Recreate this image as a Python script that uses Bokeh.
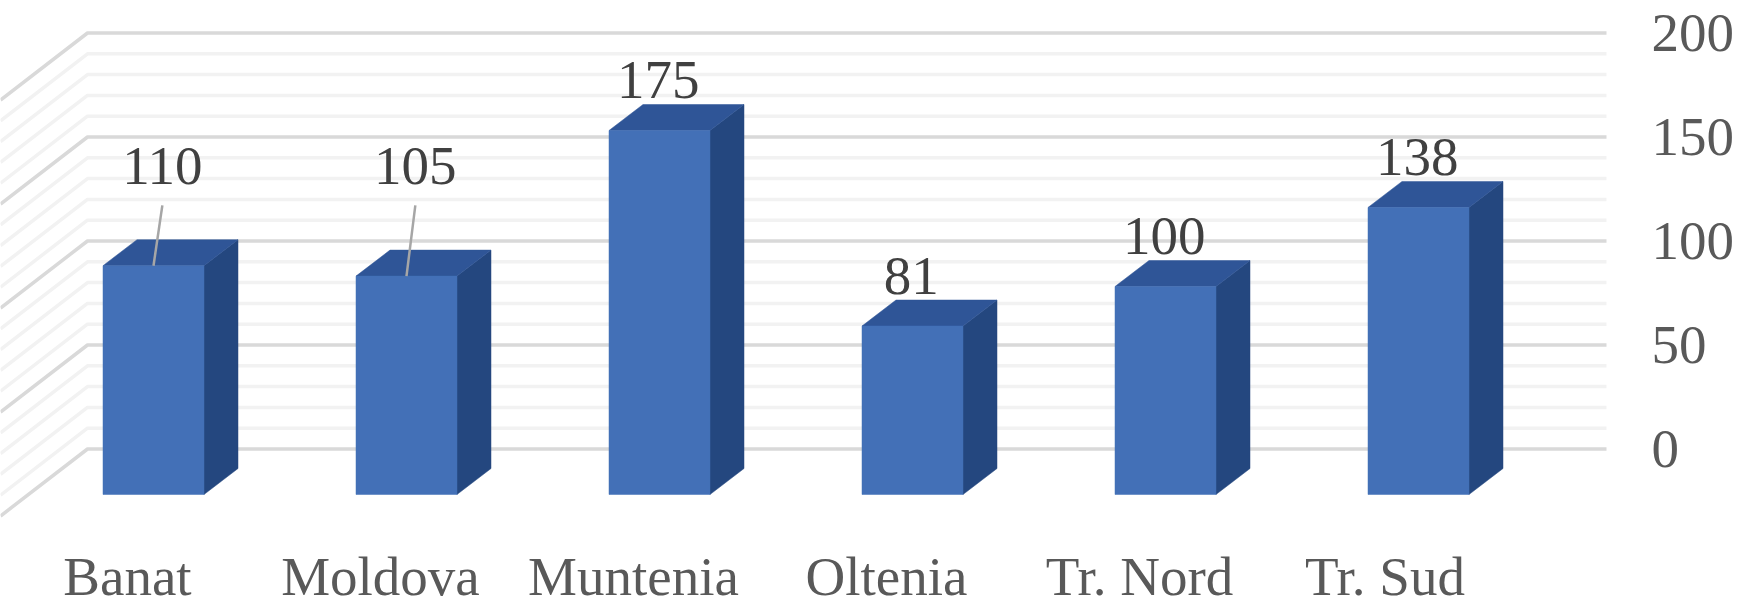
from bokeh.plotting import figure
from bokeh.models import Range1d, FixedTicker
from bokeh.core.properties import value
from bokeh.embed import file_html
from bokeh.resources import INLINE

categories = ["Banat", "Moldova", "Muntenia", "Oltenia", "Tr. Nord", "Tr. Sud"]
values = [110, 105, 175, 81, 100, 138]
y_ticks = [0, 50, 100, 150, 200]
minor_ticks = [10, 20, 30, 40, 60, 70, 80, 90, 110, 120, 130, 140, 160, 170, 180, 190]

FONT = "Liberation Serif"
PX_X, PX_Y = 253.0, 2.08          # pixels per category / per value unit
FRAME_L, FRAME_R, FRAME_T, FRAME_B = 0, 1638, 0, 533
X0, Y0 = 153.0, 494.0             # page position of category 0 / value 0
BAR_W = 101 / PX_X
DX, DY = 34 / PX_X, 26 / PX_Y     # depth of a column
BACK = 45.5 / PX_Y                # the back wall sits higher than the column fronts
GL, GR = (87 - X0) / PX_X, (1606 - X0) / PX_X
WX, WY = -87 / PX_X, -67 / PX_Y   # side wall run

x0 = (FRAME_L - X0) / PX_X
x1 = (FRAME_R - X0) / PX_X
y0 = (Y0 - FRAME_B) / PX_Y
y1 = (Y0 - FRAME_T) / PX_Y

p = figure(width=1760, height=607, frame_width=FRAME_R - FRAME_L, frame_height=FRAME_B - FRAME_T,
           x_range=Range1d(x0, x1), y_range=Range1d(y0, y1), y_axis_location="right",
           output_backend="svg", toolbar_location=None, min_border=0,
           background_fill_color="white", border_fill_color="white", outline_line_color=None)
p.grid.visible = False
LBL_SHIFT = 0.1028
p.extra_x_ranges = {"labels": Range1d(x0 + LBL_SHIFT, x1 + LBL_SHIFT)}
p.extra_y_ranges = {"back": Range1d(y0 - BACK, y1 - BACK)}

def grid(vals, color):
    p.multi_line([[GL + WX, GL, GR] for _ in vals], [[v + WY, v, v] for v in vals],
                 line_color=color, line_width=3.5, y_range_name="back")

grid(minor_ticks, "#f2f2f2")
grid(y_ticks, "#d9d9d9")

idx = list(range(len(categories)))
hw = BAR_W / 2
# side, top and front of each column
p.patches([[i + hw, i + hw + DX, i + hw + DX, i + hw] for i in idx],
          [[0, DY, v + DY, v] for v in values], fill_color="#24477f", line_color="#24477f", line_width=0.5)
p.patches([[i - hw, i - hw + DX, i + hw + DX, i + hw] for i in idx],
          [[v, v + DY, v + DY, v] for v in values], fill_color="#2f5597", line_color="#2f5597", line_width=0.5)
p.vbar(x=idx, width=BAR_W, bottom=0, top=values, fill_color="#4370b7", line_color="#4370b7", line_width=0.5)

# data labels: two were pulled away from their columns with leader lines
LIFTED = {0: 148.0, 1: 148.0}
LEADER_TOP = 139.0
TEXT_DROP = 9.7   # the browser sets this text lower than its anchor
lx = [i + (0.035 if i in LIFTED else -0.005) for i in idx]
ly = [LIFTED.get(i, v + DY + 2) + TEXT_DROP for i, v in zip(idx, values)]
p.segment([lx[i] for i in LIFTED], [LEADER_TOP for _ in LIFTED], list(LIFTED),
          [values[i] for i in LIFTED], line_color="#a6a6a6", line_width=2.5)
p.text(lx, ly, text=[str(v) for v in values], text_font=value(FONT), text_font_size="55px",
       text_color="#404040", text_align="center", text_baseline="alphabetic")

ya = p.yaxis[0]
ya.y_range_name = "back"
ya.ticker = FixedTicker(ticks=y_ticks)
ya.axis_line_color = None
ya.major_tick_line_color = None
ya.minor_tick_line_color = None
ya.major_label_standoff = 7
ya.major_label_text_font = FONT
ya.major_label_text_font_size = "55px"
ya.major_label_text_color = "#595959"

xa = p.xaxis[0]
xa.x_range_name = "labels"
xt = [0, 1, 2, 3, 4, 4.97]
xa.ticker = FixedTicker(ticks=xt)
xa.major_label_overrides = dict(zip(xt, categories))
xa.axis_line_color = None
xa.major_tick_line_color = None
xa.minor_tick_line_color = None
xa.major_label_standoff = 6
xa.major_label_text_font = FONT
xa.major_label_text_font_size = "55px"
xa.major_label_text_color = "#595959"

open("out.html", "w").write(file_html(p, INLINE))
